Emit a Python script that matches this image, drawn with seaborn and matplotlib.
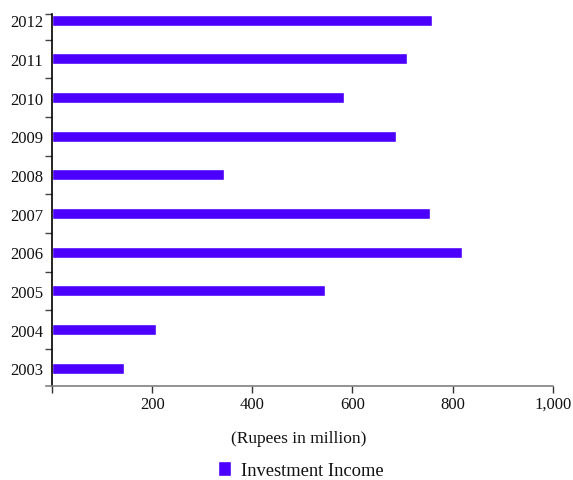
import matplotlib
matplotlib.use("Agg")
import matplotlib.pyplot as plt
import seaborn as sns
import pandas as pd
from matplotlib.ticker import FixedLocator

years = ["2012", "2011", "2010", "2009", "2008", "2007", "2006", "2005", "2004", "2003"]
income = [759, 709, 583, 687, 343, 755, 819, 545, 207, 143]
xticks = [0, 200, 400, 600, 800, 1000]
xticklabels = ["", "200", "400", "600", "800", "1,000"]
series_name = "Investment Income"
x_title = "(Rupees in million)"

sns.set_theme(style="white")
plt.rcParams["font.family"] = ["Liberation Serif", "DejaVu Serif"]

df = pd.DataFrame({"Year": years, "Income": income})

fig = plt.figure(figsize=(5.73, 4.81), dpi=100)
ax = fig.add_axes([46 / 573, 1 - 387 / 481, (552.7 - 46) / 573, (387 - 15) / 481])

sns.barplot(data=df, x="Income", y="Year", order=years, orient="h",
            color="#4B00FF", saturation=1, width=0.29, label=series_name, ax=ax)

ax.set_xlim(-12, 1000)
ax.set_ylim(9.46, -0.16)

for s in ["top", "right"]:
    ax.spines[s].set_visible(False)
ax.spines["left"].set_position(("data", 0))
ax.spines["left"].set_color("black")
ax.spines["left"].set_linewidth(1.2)
ax.spines["bottom"].set_color("#808080")
ax.spines["bottom"].set_linewidth(1.2)

ax.set_xticks(xticks)
ax.set_xticklabels(xticklabels)
ax.tick_params(axis="x", direction="out", length=5, width=1, color="#333333",
               labelsize=12, pad=2, bottom=True, labelcolor="#111111")

ax.yaxis.set_minor_locator(FixedLocator([k + 0.5 for k in range(9)] + [-0.16]))
ax.tick_params(axis="y", which="major", length=0, pad=6.5, labelsize=12, labelcolor="#111111", left=True)
ax.tick_params(axis="y", which="minor", direction="out", length=5, width=1, color="#444444", left=True)

ax.set_xlabel("")
ax.set_ylabel("")

fig.text(299 / 573, 1 - 439 / 481, x_title, ha="center", va="center", fontsize=12.5, color="#111111")

ax.legend(loc="center", bbox_to_anchor=(300.5 / 573, 1 - 471 / 481), bbox_transform=fig.transFigure,
          frameon=False, fontsize=13.3, handlelength=0.7, handleheight=0.9, handletextpad=0.55,
          borderpad=0, labelcolor="#111111")

fig.savefig("out.png", dpi=100)
